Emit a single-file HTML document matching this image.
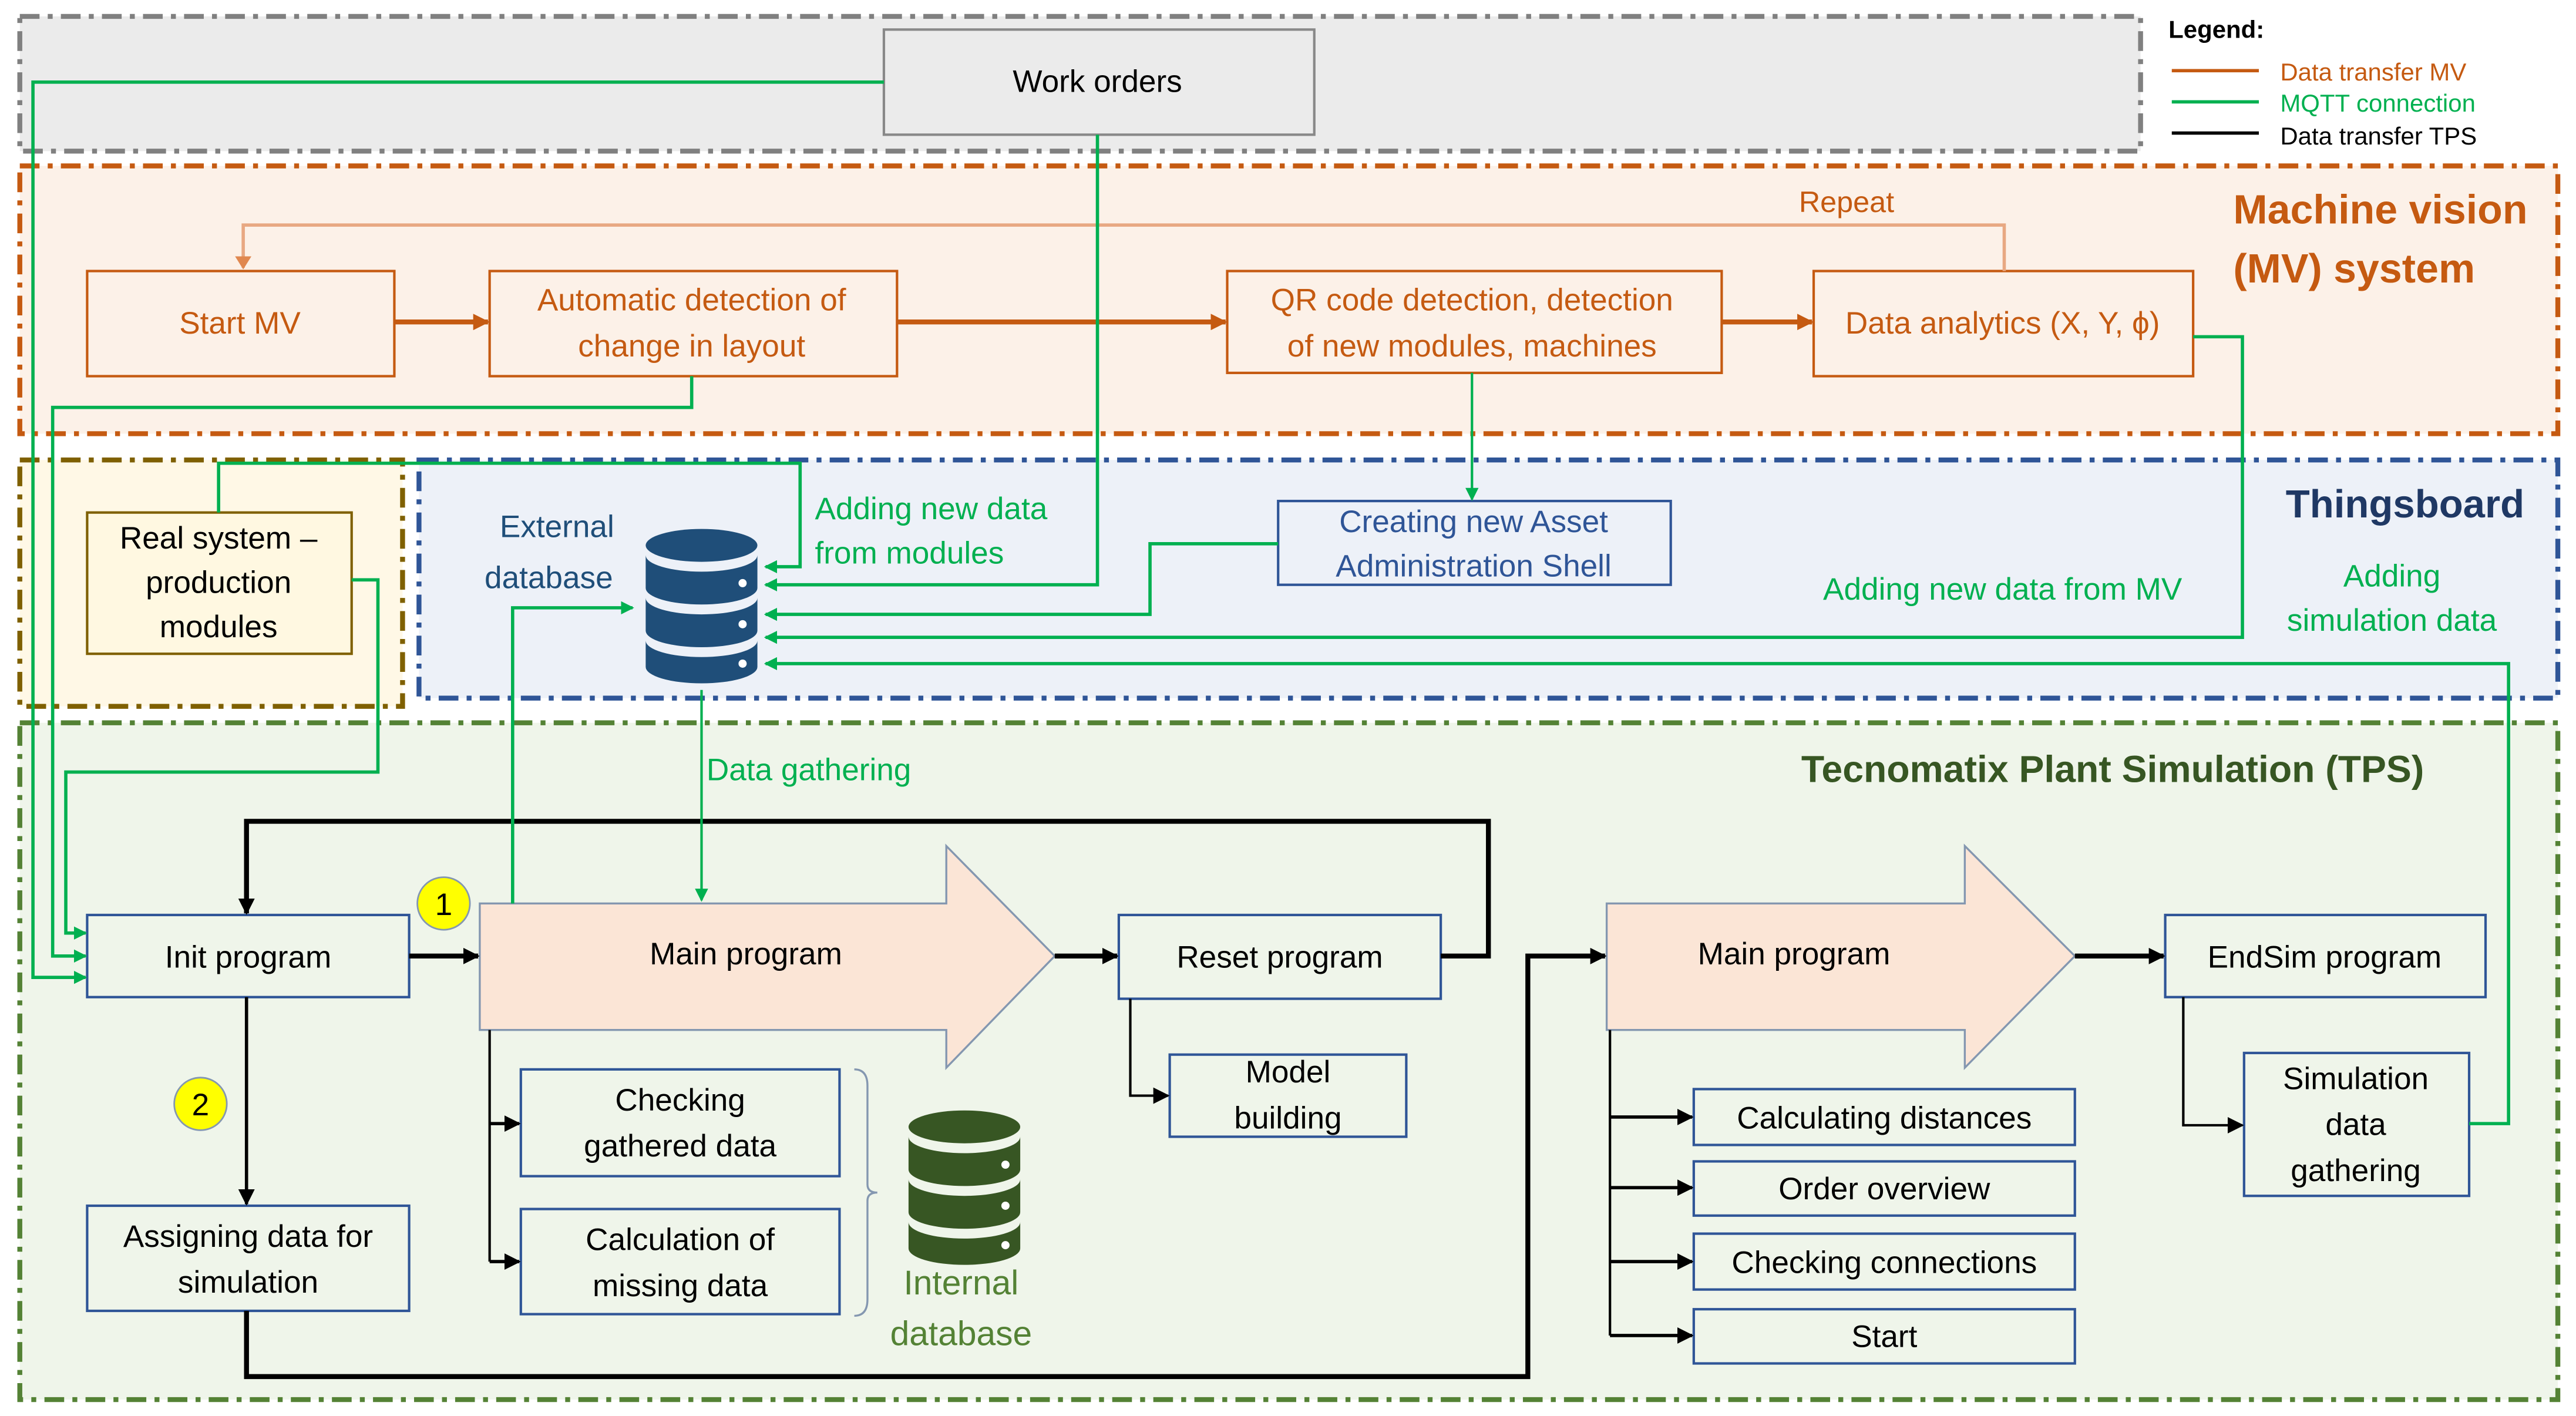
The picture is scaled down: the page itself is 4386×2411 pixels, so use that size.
<!DOCTYPE html>
<html><head><meta charset="utf-8"><style>
html,body{margin:0;padding:0;background:#fff}
svg{display:block}
text{font-family:"Liberation Sans",sans-serif}
</style></head><body>
<svg xmlns="http://www.w3.org/2000/svg" width="4386" height="2411" viewBox="0 0 1568 862">
<defs>
<marker id="ag" markerWidth="8" markerHeight="8" refX="7" refY="4" orient="auto" markerUnits="userSpaceOnUse"><path d="M0,0 L8,4 L0,8 z" fill="#00b050"/></marker>
<marker id="ao" markerWidth="10" markerHeight="10" refX="9" refY="5" orient="auto" markerUnits="userSpaceOnUse"><path d="M0,0 L10,5 L0,10 z" fill="#c55a11"/></marker>
<marker id="ar" markerWidth="8" markerHeight="10" refX="7" refY="5" orient="auto" markerUnits="userSpaceOnUse"><path d="M0,0 L8,5 L0,10 z" fill="#e08850"/></marker>
<marker id="ab" markerWidth="10" markerHeight="10" refX="9" refY="5" orient="auto" markerUnits="userSpaceOnUse"><path d="M0,0 L10,5 L0,10 z" fill="#000"/></marker>
</defs>
<g fill="none" stroke-width="3" stroke-dasharray="12,5,3,5">
<rect x="12" y="10" width="1291" height="82" fill="#ebebeb" stroke="#808080"/>
<rect x="12" y="101" width="1545" height="163" fill="#fcf1e8" stroke="#c55a11"/>
<rect x="255" y="280" width="1302" height="145" fill="#edf1f8" stroke="#2f5597"/>
<rect x="12" y="280" width="233" height="150" fill="#fff8e6" stroke="#7f6000"/>
<rect x="12" y="440" width="1545" height="412" fill="#eff5ea" stroke="#548235"/>
</g>
<!-- legend -->
<text x="1320" y="23" font-size="15" font-weight="bold">Legend:</text>
<line x1="1322" y1="43" x2="1375" y2="43" stroke="#c55a11" stroke-width="2"/>
<line x1="1322" y1="62" x2="1375" y2="62" stroke="#00b050" stroke-width="2"/>
<line x1="1322" y1="81" x2="1375" y2="81" stroke="#000" stroke-width="2"/>
<text x="1388" y="49" font-size="15" fill="#c55a11">Data transfer MV</text>
<text x="1388" y="68" font-size="15" fill="#00b050">MQTT connection</text>
<text x="1388" y="88" font-size="15">Data transfer TPS</text>
<!-- work orders -->
<rect x="538" y="18" width="262" height="64" fill="#ebebeb" stroke="#888" stroke-width="1.5"/>
<text x="668" y="56" font-size="19" text-anchor="middle">Work orders</text>
<!-- MV -->
<g stroke="#c55a11" stroke-width="1.5" fill="#fcf1e8">
<rect x="53" y="165" width="187" height="64"/>
<rect x="298" y="165" width="248" height="64"/>
<rect x="747" y="165" width="301" height="62"/>
<rect x="1104" y="165" width="231" height="64"/>
</g>
<g fill="#c55a11" font-size="19" text-anchor="middle">
<text x="146" y="203">Start MV</text>
<text x="421" y="189">Automatic detection of</text>
<text x="421" y="217">change in layout</text>
<text x="896" y="189">QR code detection, detection</text>
<text x="896" y="217">of new modules, machines</text>
<text x="1219" y="203">Data analytics (X, Y, ϕ)</text>
<text x="1124" y="129" font-size="18">Repeat</text>
<text x="1449" y="136" font-size="25" font-weight="bold">Machine vision</text>
<text x="1433" y="172" font-size="25" font-weight="bold">(MV) system</text>
</g>
<polyline points="1220,165 1220,137 148,137 148,163" fill="none" stroke="#e8a882" stroke-width="2" marker-end="url(#ar)"/>
<g stroke="#c55a11" stroke-width="3" fill="none">
<line x1="240" y1="196" x2="297" y2="196" marker-end="url(#ao)"/>
<line x1="546" y1="196" x2="746" y2="196" marker-end="url(#ao)"/>
<line x1="1048" y1="196" x2="1103" y2="196" marker-end="url(#ao)"/>
</g>
<!-- Thingsboard -->
<text x="1464" y="315" font-size="24" font-weight="bold" fill="#1f3864" text-anchor="middle">Thingsboard</text>
<rect x="53" y="312" width="161" height="86" fill="#fff8e1" stroke="#7f6000" stroke-width="1.5"/>
<g font-size="19" text-anchor="middle">
<text x="133" y="334">Real system –</text>
<text x="133" y="361">production</text>
<text x="133" y="388">modules</text>
</g>
<rect x="778" y="305" width="239" height="51" fill="#edf1f8" stroke="#2f5597" stroke-width="1.5"/>
<g font-size="19" text-anchor="middle" fill="#2f5597">
<text x="897" y="324">Creating new Asset</text>
<text x="897" y="351">Administration Shell</text>
<text x="339" y="327" fill="#1f4e79">External</text>
<text x="334" y="358" fill="#1f4e79">database</text>
</g>
<g font-size="19" fill="#00b050">
<text x="496" y="316">Adding new data</text>
<text x="496" y="343">from modules</text>
<text x="1219" y="365" text-anchor="middle">Adding new data from MV</text>
<text x="1456" y="357" text-anchor="middle">Adding</text>
<text x="1456" y="384" text-anchor="middle">simulation data</text>
<text x="430" y="475">Data gathering</text>
</g>
<!-- DB icons -->
<g fill="#1f4e79">
<ellipse cx="427" cy="332" rx="34" ry="10"/>
<path d="M393,338 a34,10 0 0 0 68,0 v20 a34,10 0 0 1 -68,0z"/>
<path d="M393,364 a34,10 0 0 0 68,0 v20 a34,10 0 0 1 -68,0z"/>
<path d="M393,390 a34,10 0 0 0 68,0 v16 a34,10 0 0 1 -68,0z"/>
</g>
<g fill="#fff"><circle cx="452" cy="355" r="2.5"/><circle cx="452" cy="380" r="2.5"/><circle cx="452" cy="404" r="2.5"/></g>
<g fill="#375623">
<ellipse cx="587" cy="686" rx="34" ry="10"/>
<path d="M553,692 a34,10 0 0 0 68,0 v20 a34,10 0 0 1 -68,0z"/>
<path d="M553,718 a34,10 0 0 0 68,0 v20 a34,10 0 0 1 -68,0z"/>
<path d="M553,744 a34,10 0 0 0 68,0 v16 a34,10 0 0 1 -68,0z"/>
</g>
<g fill="#fff"><circle cx="612" cy="709" r="2.5"/><circle cx="612" cy="734" r="2.5"/><circle cx="612" cy="758" r="2.5"/></g>
<g font-size="21" fill="#548235" text-anchor="middle"><text x="585" y="788">Internal</text><text x="585" y="819">database</text></g>
<!-- TPS -->
<text x="1286" y="476" font-size="23" font-weight="bold" fill="#375623" text-anchor="middle">Tecnomatix Plant Simulation (TPS)</text>
<g fill="#fbe5d6" stroke="#8497b0" stroke-width="1.2">
<path d="M292,550 H576 V515 L642,582 L576,650 V627 H292 Z"/>
<path d="M978,550 H1196 V515 L1263,582 L1196,650 V627 H978 Z"/>
</g>
<g fill="#eff5ea" stroke="#2f5597" stroke-width="1.5">
<rect x="53" y="557" width="196" height="50"/>
<rect x="681" y="557" width="196" height="51"/>
<rect x="712" y="642" width="144" height="50"/>
<rect x="317" y="651" width="194" height="65"/>
<rect x="317" y="736" width="194" height="64"/>
<rect x="53" y="734" width="196" height="64"/>
<rect x="1318" y="557" width="195" height="50"/>
<rect x="1366" y="641" width="137" height="87"/>
<rect x="1031" y="663" width="232" height="34"/>
<rect x="1031" y="707" width="232" height="33"/>
<rect x="1031" y="751" width="232" height="34"/>
<rect x="1031" y="797" width="232" height="33"/>
</g>
<g font-size="19" text-anchor="middle">
<text x="151" y="589">Init program</text>
<text x="454" y="587">Main program</text>
<text x="779" y="589">Reset program</text>
<text x="784" y="659">Model</text>
<text x="784" y="687">building</text>
<text x="414" y="676">Checking</text>
<text x="414" y="704">gathered data</text>
<text x="414" y="761">Calculation of</text>
<text x="414" y="789">missing data</text>
<text x="151" y="759">Assigning data for</text>
<text x="151" y="787">simulation</text>
<text x="1092" y="587">Main program</text>
<text x="1415" y="589">EndSim program</text>
<text x="1434" y="663">Simulation</text>
<text x="1434" y="691">data</text>
<text x="1434" y="719">gathering</text>
<text x="1147" y="687">Calculating distances</text>
<text x="1147" y="730">Order overview</text>
<text x="1147" y="775">Checking connections</text>
<text x="1147" y="820">Start</text>
</g>
<path d="M520,651 q8,0 8,10 v60 q0,5 6,5 q-6,0 -6,5 v60 q0,10 -8,10" fill="none" stroke="#8497b0" stroke-width="1.2"/>
<g fill="#ffff00" stroke="#8497b0" stroke-width="1"><circle cx="270" cy="550" r="16"/><circle cx="122" cy="672" r="16"/></g>
<g font-size="19" text-anchor="middle"><text x="270" y="557">1</text><text x="122" y="679">2</text></g>
<!-- black connectors -->
<g stroke="#000" fill="none" stroke-width="2">
<line x1="249" y1="582" x2="291" y2="582" stroke-width="3" marker-end="url(#ab)"/>
<line x1="642" y1="582" x2="680" y2="582" stroke-width="3" marker-end="url(#ab)"/>
<polyline points="877,582 906,582 906,500 150,500 150,556" stroke-width="3" marker-end="url(#ab)"/>
<line x1="150" y1="607" x2="150" y2="733" marker-end="url(#ab)"/>
<polyline points="150,798 150,838 930,838 930,582 977,582" stroke-width="3" marker-end="url(#ab)"/>
<line x1="1263" y1="582" x2="1317" y2="582" stroke-width="3" marker-end="url(#ab)"/>
<polyline points="298,627 298,768" stroke-width="1.5"/>
<line x1="298" y1="684" x2="316" y2="684" marker-end="url(#ab)"/>
<line x1="298" y1="768" x2="316" y2="768" marker-end="url(#ab)"/>
<polyline points="688,608 688,667 711,667" stroke-width="1.5" marker-end="url(#ab)"/>
<line x1="980" y1="627" x2="980" y2="813" stroke-width="1.5"/>
<line x1="980" y1="680" x2="1030" y2="680" marker-end="url(#ab)"/>
<line x1="980" y1="723" x2="1030" y2="723" marker-end="url(#ab)"/>
<line x1="980" y1="768" x2="1030" y2="768" marker-end="url(#ab)"/>
<line x1="980" y1="813" x2="1030" y2="813" marker-end="url(#ab)"/>
<polyline points="1329,607 1329,685 1365,685" stroke-width="1.5" marker-end="url(#ab)"/>
</g>
<!-- green connectors -->
<g stroke="#00b050" fill="none" stroke-width="2">
<polyline points="538,50 20,50 20,595 52,595" marker-end="url(#ag)"/>
<polyline points="421,229 421,248 32,248 32,582 52,582" marker-end="url(#ag)"/>
<polyline points="214,353 230,353 230,470 40,470 40,568 52,568" marker-end="url(#ag)"/>
<polyline points="133,312 133,282 487,282 487,345 466,345" marker-end="url(#ag)"/>
<polyline points="668,82 668,356 466,356" marker-end="url(#ag)"/>
<polyline points="778,331 700,331 700,374 466,374" marker-end="url(#ag)"/>
<polyline points="1335,205 1365,205 1365,388 466,388" marker-end="url(#ag)"/>
<polyline points="1503,684 1527,684 1527,404 466,404" marker-end="url(#ag)"/>
<polyline points="312,550 312,370 385,370" marker-end="url(#ag)"/>
<line x1="427" y1="420" x2="427" y2="548" stroke-width="1.5" marker-end="url(#ag)"/>
<line x1="896" y1="227" x2="896" y2="304" stroke-width="1.5" marker-end="url(#ag)"/>
</g>
</svg>
</body></html>
